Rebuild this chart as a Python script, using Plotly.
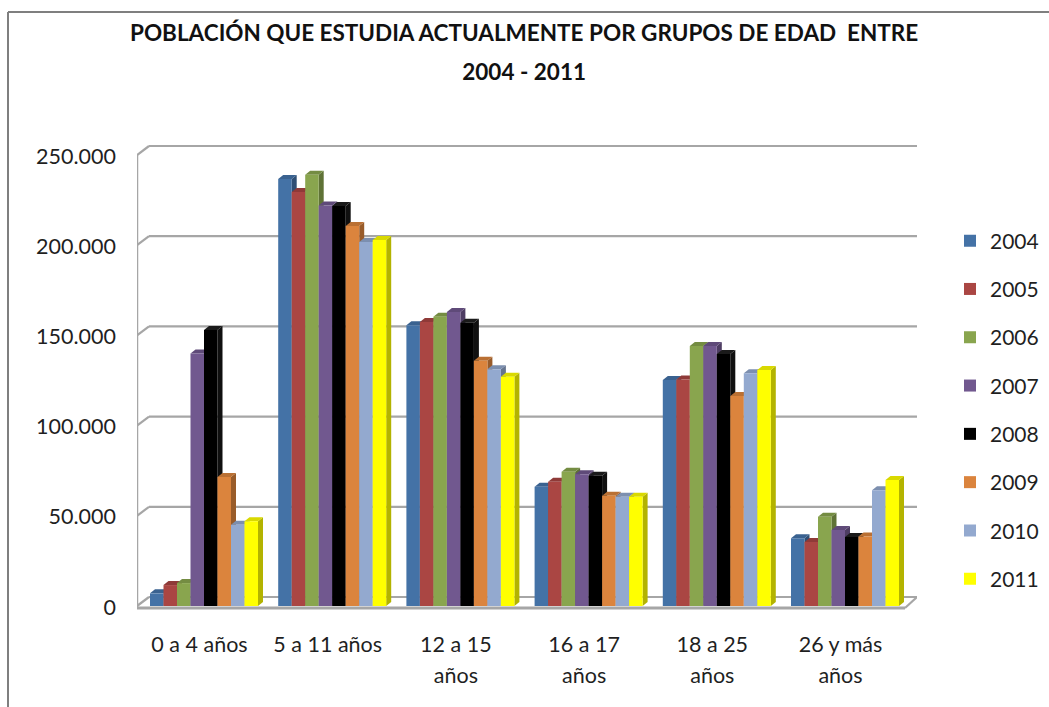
import plotly.graph_objects as go

TITLE = "POBLACIÓN QUE ESTUDIA ACTUALMENTE POR GRUPOS DE EDAD  ENTRE<br>2004 - 2011"
CATEGORIES = ["0 a 4 años", "5 a 11 años", "12 a 15<br>años", "16 a 17<br>años", "18 a 25<br>años", "26 y más<br>años"]
Y_TICKS = [0, 50000, 100000, 150000, 200000, 250000]
Y_LABELS = ["0", "50.000", "100.000", "150.000", "200.000", "250.000"]
YEARS = ["2004", "2005", "2006", "2007", "2008", "2009", "2010", "2011"]
V2004 = [7000, 236700, 155600, 66100, 125300, 37500]
V2005 = [11600, 229500, 157400, 68900, 125500, 35500]
V2006 = [12700, 239000, 160400, 74400, 144100, 49500]
V2007 = [140000, 222000, 163000, 73000, 144100, 42100]
V2008 = [153000, 221700, 157000, 72200, 139700, 38200]
V2009 = [71500, 210600, 136000, 61100, 116400, 38500]
V2010 = [45000, 201800, 131200, 60600, 129000, 64200]
V2011 = [47000, 202900, 127100, 60600, 130800, 69800]
SERIES = [V2004, V2005, V2006, V2007, V2008, V2009, V2010, V2011]
COLORS = ["#4472A6", "#AA4643", "#89A54E", "#71588F", "#000000", "#DB843D", "#93A9CF", "#FFFF00"]
TOPS = ["#3A6290", "#8F3A38", "#748C42", "#5F4A79", "#1A1A1A", "#BA7033", "#7C8FAF", "#D9D900"]
SIDES = ["#2F4F75", "#75302E", "#5F7236", "#4E3D63", "#101010", "#995C2A", "#66758F", "#B3B300"]

W, H = 1049, 707
L, R, T, B = 137, 917, 100, 612
PX_PER_CAT = 128.2
PX_PER_UNIT = 1.804 / 1000
ZERO_PX = 606
CENTER0 = 204
BAR_PX = 13.5
GROUP_PX = BAR_PX * 8


def dx(px):
    return px / PX_PER_CAT


def dy(px):
    return px / PX_PER_UNIT


shapes = []
GRID = "#A6A6A6"


def line(x0, y0, x1, y1, width=2.2):
    shapes.append(dict(type="line", xref="x", yref="y", x0=x0, y0=y0, x1=x1, y1=y1,
                       layer="below", line=dict(color=GRID, width=width)))


x_left = (L - CENTER0) / PX_PER_CAT
x_right = (R - CENTER0) / PX_PER_CAT
WALL_DX, WALL_DY = dx(12), dy(9)
for t in Y_TICKS:
    line(x_left, t, x_left + WALL_DX, t + WALL_DY)
    line(x_left + WALL_DX, t + WALL_DY, x_right, t + WALL_DY)
# floor and side wall
line(x_left, -dy(2), x_right - WALL_DX, -dy(2), 3)
line(x_right - WALL_DX, -dy(2), x_right, WALL_DY)
line(x_left, -dy(2), x_left, Y_TICKS[-1], 2.5)

BAR_W = dx(BAR_PX)
DEPTH_X, DEPTH_Y = dx(5), dy(4)
for c in range(len(CATEGORIES)):
    for s, vals in enumerate(SERIES):
        v = vals[c]
        x0 = c - dx(GROUP_PX) / 2 + s * BAR_W
        x1 = x0 + BAR_W
        side = f"M{x1},0 L{x1 + DEPTH_X},{DEPTH_Y} L{x1 + DEPTH_X},{v + DEPTH_Y} L{x1},{v} Z"
        top = f"M{x0},{v} L{x0 + DEPTH_X},{v + DEPTH_Y} L{x1 + DEPTH_X},{v + DEPTH_Y} L{x1},{v} Z"
        shapes.append(dict(type="path", xref="x", yref="y", path=side, layer="below",
                           fillcolor=SIDES[s], line=dict(width=0)))
        shapes.append(dict(type="path", xref="x", yref="y", path=top, layer="below",
                           fillcolor=TOPS[s], line=dict(width=0)))

# outer frame of the picture
FRAME = "#7F7F7F"
for x0, y0, x1, y1 in [(8, 12, W, 12), (8, 12, 8, H)]:
    shapes.append(dict(type="line", xref="paper", yref="paper",
                       x0=(x0 - L) / (R - L), x1=(x1 - L) / (R - L),
                       y0=(B - y0) / (B - T), y1=(B - y1) / (B - T),
                       layer="below", line=dict(color=FRAME, width=2)))

fig = go.Figure()
positions = list(range(len(CATEGORIES)))
for s, vals in enumerate(SERIES):
    fig.add_trace(go.Bar(x=positions, y=vals, name=YEARS[s], marker=dict(color=COLORS[s], line=dict(width=0)),
                         legendgroup=YEARS[s]))

TICK_SPAN = '<span style="font-size:21.5px">%s</span>'
ticktext = ["<br>".join(TICK_SPAN % part for part in c.split("<br>")) for c in CATEGORIES]
TITLE_SPAN = '<span style="font-size:22.5px"><b>%s</b></span>'
title_text = "<br>".join(TITLE_SPAN % part for part in TITLE.split("<br>"))

fig.update_layout(
    width=W, height=H, autosize=False,
    margin=dict(l=L, r=W - R, t=T, b=H - B, pad=0, autoexpand=False),
    paper_bgcolor="white", plot_bgcolor="rgba(0,0,0,0)",
    barmode="group", bargap=1 - GROUP_PX / PX_PER_CAT, bargroupgap=0,
    font=dict(family="Lato, Carlito, sans-serif", color="#1F1F1F", size=20),
    shapes=shapes,
    showlegend=True,
    legend=dict(x=(950 - L) / (R - L), y=(B - 220.5) / (B - T), xanchor="left", yanchor="top",
                font=dict(size=21), tracegroupgap=18, traceorder="grouped",
                itemwidth=30, bgcolor="rgba(0,0,0,0)"),
    xaxis=dict(range=[x_left, x_right], tickmode="array",
               tickvals=[p - dx(4.5) for p in positions], ticktext=ticktext,
               showgrid=False, zeroline=False, showline=False, ticks="",
               tickangle=0, tickfont=dict(size=24), ticklabelstandoff=15),
    yaxis=dict(range=[(ZERO_PX - B) / PX_PER_UNIT, (ZERO_PX - T) / PX_PER_UNIT], tickmode="array",
               tickvals=Y_TICKS, ticktext=Y_LABELS, showgrid=False, zeroline=False,
               showline=False, ticks="", tickfont=dict(size=21.5), ticklabelstandoff=20, ticklabelshift=1),
    annotations=[dict(text=title_text, xref="paper", yref="paper",
                      x=(524 - L) / (R - L), y=(B - 17) / (B - T), xanchor="center", yanchor="top",
                      showarrow=False, align="center", font=dict(size=30, color="#111111"))],
)

fig.write_html("out.html", post_script="document.body.style.margin='0';",
               config=dict(displayModeBar=False))
